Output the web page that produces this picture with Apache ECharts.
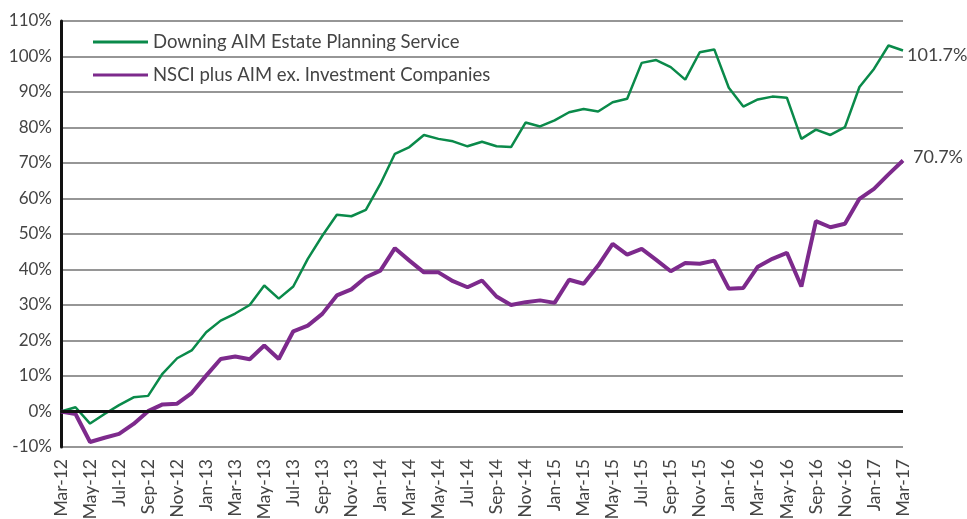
<!DOCTYPE html>
<html>
<head>
<meta charset="utf-8">
<style>
  html, body { margin: 0; padding: 0; background: #fff; }
  #chart { width: 967px; height: 519px; }
</style>
<script src="https://cdn.jsdelivr.net/npm/echarts@6/dist/echarts.min.js"></script>
</head>
<body>
<div id="chart"></div>
<script>
  // monthly points, Jul-16 and Aug-16 are not in the source data
  var months = [
    'Mar-12', 'Apr-12', 'May-12', 'Jun-12', 'Jul-12', 'Aug-12', 'Sep-12', 'Oct-12', 'Nov-12', 'Dec-12',
    'Jan-13', 'Feb-13', 'Mar-13', 'Apr-13', 'May-13', 'Jun-13', 'Jul-13', 'Aug-13', 'Sep-13', 'Oct-13', 'Nov-13', 'Dec-13',
    'Jan-14', 'Feb-14', 'Mar-14', 'Apr-14', 'May-14', 'Jun-14', 'Jul-14', 'Aug-14', 'Sep-14', 'Oct-14', 'Nov-14', 'Dec-14',
    'Jan-15', 'Feb-15', 'Mar-15', 'Apr-15', 'May-15', 'Jun-15', 'Jul-15', 'Aug-15', 'Sep-15', 'Oct-15', 'Nov-15', 'Dec-15',
    'Jan-16', 'Feb-16', 'Mar-16', 'Apr-16', 'May-16', 'Jun-16', 'Sep-16', 'Oct-16', 'Nov-16', 'Dec-16',
    'Jan-17', 'Feb-17', 'Mar-17'
  ]
  var downing = [
    0, 1.2, -3.4, -0.7, 1.8, 4.0, 4.4, 10.7, 15.0, 17.2,
    22.3, 25.6, 27.6, 30.0, 35.5, 31.8, 35.2, 43.0, 49.5, 55.4, 55.0, 56.8,
    64.1, 72.6, 74.5, 77.9, 76.8, 76.1, 74.7, 76.0, 74.7, 74.5, 81.4, 80.3,
    82.0, 84.3, 85.2, 84.5, 87.1, 88.1, 98.2, 99.0, 97.0, 93.5, 101.2, 102.0,
    91.2, 85.9, 87.9, 88.7, 88.4, 76.8, 79.4, 77.9, 80.1, 91.4,
    96.5, 103.1, 101.7
  ]
  var nsci = [
    0, -0.7, -8.6, -7.4, -6.3, -3.5, 0.1, 2.0, 2.2, 5.2,
    10.1, 14.8, 15.5, 14.7, 18.6, 14.8, 22.6, 24.2, 27.5, 32.7, 34.4, 37.8,
    39.7, 46.0, 42.5, 39.2, 39.2, 36.7, 35.0, 36.9, 32.4, 30.0, 30.8, 31.3,
    30.6, 37.1, 36.0, 41.1, 47.2, 44.2, 45.8, 42.7, 39.5, 41.8, 41.6, 42.5,
    34.6, 34.8, 40.8, 43.0, 44.7, 35.2, 53.6, 51.9, 52.9, 59.9,
    62.7, 66.8, 70.7
  ]

  var textColor = '#444'
  var fontFamily = 'Lato'

  var chart = echarts.init(document.getElementById('chart'))
  chart.setOption({
    animation: false,
    textStyle: { fontFamily: fontFamily },
    grid: {
      left: 61,
      right: 64,
      top: 21,
      bottom: 72,
      outerBoundsMode: 'none'
    },
    legend: {
      orient: 'vertical',
      left: 88,
      top: 27,
      icon: 'rect',
      itemWidth: 55,
      itemHeight: 3,
      itemGap: 13,
      textStyle: {
        color: textColor,
        fontSize: 18.5,
        lineHeight: 20,
        padding: [0, 0, 0, 0]
      },
      data: ['Downing AIM Estate Planning Service', 'NSCI plus AIM ex. Investment Companies']
    },
    xAxis: {
      type: 'category',
      data: months,
      boundaryGap: false,
      axisLine: { show: false, onZero: false },
      axisTick: { show: false },
      axisLabel: {
        interval: 1,
        rotate: 90,
        margin: 12,
        color: textColor,
        fontSize: 17.5
      },
      splitLine: { show: false }
    },
    yAxis: {
      type: 'value',
      min: -10,
      max: 110,
      interval: 10,
      axisLine: {
        show: true,
        lineStyle: { color: '#111', width: 3 }
      },
      axisTick: { show: false },
      axisLabel: {
        margin: 9,
        color: textColor,
        fontSize: 17,
        formatter: '{value}%'
      },
      splitLine: {
        show: true,
        lineStyle: { color: '#737373', width: 1.5 }
      }
    },
    series: [{
      name: 'Downing AIM Estate Planning Service',
      type: 'line',
      data: downing,
      symbol: 'none',
      lineStyle: { color: '#0a8a4a', width: 2.5 },
      itemStyle: { color: '#0a8a4a' },
      endLabel: {
        show: true,
        distance: 4,
        offset: [0, 5],
        color: textColor,
        fontSize: 18,
        formatter: function (p) { return p.value + '%' }
      },
      markLine: {
        silent: true,
        symbol: 'none',
        label: { show: false },
        lineStyle: { color: '#111', width: 3, type: 'solid' },
        data: [{ yAxis: 0 }]
      },
      z: 3
    }, {
      name: 'NSCI plus AIM ex. Investment Companies',
      type: 'line',
      data: nsci,
      symbol: 'none',
      lineStyle: { color: '#7d2a8c', width: 4 },
      itemStyle: { color: '#7d2a8c' },
      endLabel: {
        show: true,
        distance: 10,
        offset: [0, -3],
        color: textColor,
        fontSize: 18,
        formatter: function (p) { return p.value + '%' }
      },
      z: 4
    }]
  })
  window.addEventListener('resize', function () {
    chart.resize()
  })
</script>
</body>
</html>
